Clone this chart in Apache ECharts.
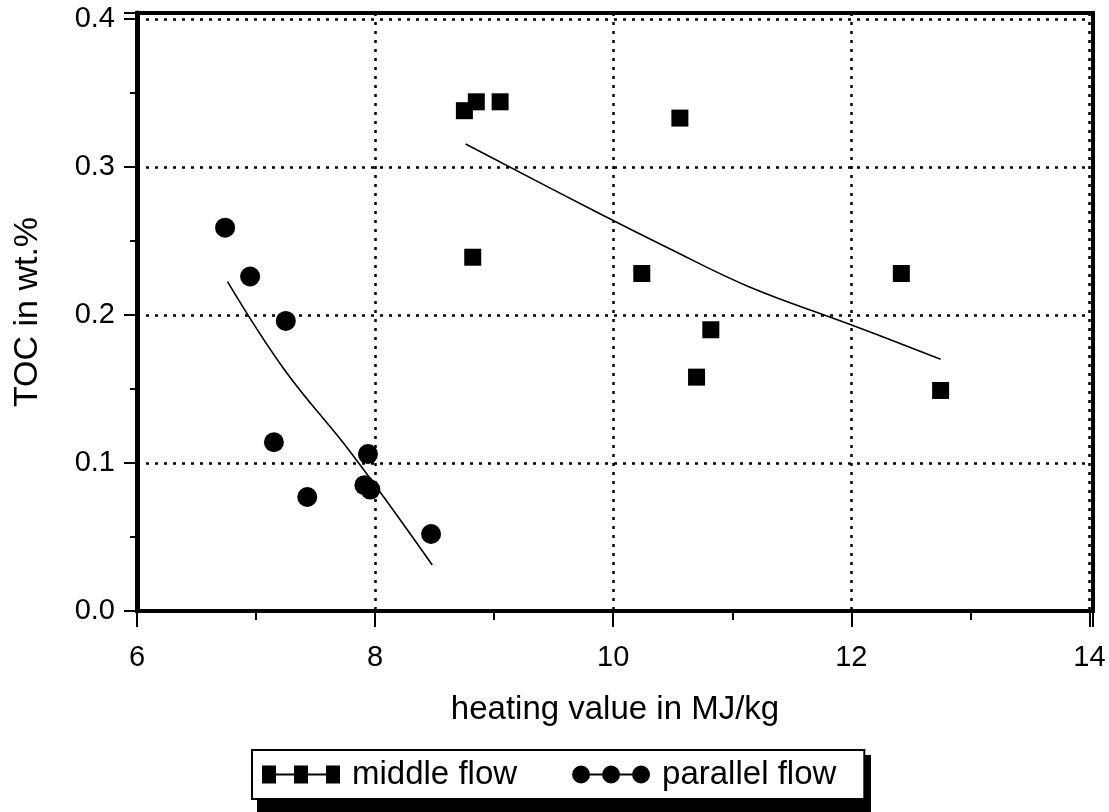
<!DOCTYPE html>
<html>
<head>
<meta charset="utf-8">
<script src="https://cdn.jsdelivr.net/npm/echarts@6/dist/echarts.min.js"></script>
<style>html,body{margin:0;padding:0;background:#fff}#c{width:1109px;height:812px}</style>
</head>
<body>
<div id="c"></div>
<script>
// ---- data ----
const middleFlowX = [8.75, 8.85, 9.05, 8.82, 10.56, 10.24, 12.42, 10.82, 10.70, 12.75];
const middleFlowY = [0.338, 0.344, 0.344, 0.239, 0.333, 0.228, 0.228, 0.190, 0.158, 0.149];
const parallelFlowX = [6.74, 6.95, 7.25, 7.15, 7.43, 7.94, 7.91, 7.96, 8.47];
const parallelFlowY = [0.259, 0.226, 0.196, 0.114, 0.077, 0.106, 0.085, 0.082, 0.052];
// fitted trend curves as drawn in the reference
const middleFitX = [8.76, 9.88, 10.44, 11.14, 11.98, 12.75];
const middleFitY = [0.3155, 0.2687, 0.2461, 0.2191, 0.1939, 0.1701];
const parallelFitX = [6.76, 7.24, 7.80, 8.48];
const parallelFitY = [0.2225, 0.1628, 0.1066, 0.0311];
const xTicks = [6, 8, 10, 12, 14];
const yTicks = ['0.0', '0.1', '0.2', '0.3', '0.4'];
const seriesNames = ['middle flow', 'parallel flow'];
const xTitle = 'heating value in MJ/kg';
const yTitle = 'TOC in wt.%';

const zip = (a, b) => a.map((v, i) => [v, b[i]]);
const FONT = '"Liberation Sans", Arial, sans-serif';

const squaresIcon = 'path://M0,0L14,0L14,18L0,18Z M14,8L32,8L32,10L14,10Z M32,0L46,0L46,18L32,18Z M46,8L64,8L64,10L46,10Z M64,0L78,0L78,18L64,18Z';
const circlesIcon = 'path://M0,9A9,9 0 1,1 18,9A9,9 0 1,1 0,9Z M18,8L30,8L30,10L18,10Z M30,9A9,9 0 1,1 48,9A9,9 0 1,1 30,9Z M48,8L60,8L60,10L48,10Z M60,9A9,9 0 1,1 78,9A9,9 0 1,1 60,9Z';

const chart = echarts.init(document.getElementById('c'), null, {renderer: 'canvas'});
chart.setOption({
  backgroundColor: '#fff',
  animation: false,
  textStyle: {fontFamily: FONT},
  graphic: [{
    type: 'rect', left: 257, top: 755, z: 1, silent: true,
    shape: {width: 614, height: 57},
    style: {fill: '#000'}
  }],
  grid: {
    left: 137, right: 16, top: 13, bottom: 201,
    show: true, borderColor: '#000', borderWidth: 4, backgroundColor: 'transparent'
  },
  legend: {
    left: 252, top: 750, z: 5,
    orient: 'horizontal',
    data: [
      {name: seriesNames[0], icon: squaresIcon},
      {name: seriesNames[1], icon: circlesIcon}
    ],
    itemWidth: 78, itemHeight: 18, itemGap: 55,
    padding: [8, 28, 8, 10],
    backgroundColor: '#fff',
    borderColor: '#000', borderWidth: 2,
    textStyle: {fontFamily: FONT, fontSize: 33, color: '#000', padding: [0, 0, 0, 7]},
    selectedMode: false
  },
  xAxis: {
    type: 'value', min: 6, max: 14.03, interval: 2,
    name: xTitle, nameLocation: 'middle', nameGap: 82,
    nameTextStyle: {fontFamily: FONT, fontSize: 33, color: '#000'},
    axisLine: {show: true, lineStyle: {color: '#000', width: 4}},
    axisTick: {show: true, length: 16, lineStyle: {color: '#000', width: 2}},
    minorTick: {show: true, splitNumber: 2, length: 9, lineStyle: {color: '#000', width: 2}},
    axisLabel: {
      fontFamily: FONT, fontSize: 29, color: '#000', margin: 32,
      formatter: v => (xTicks.indexOf(Math.round(v * 1000) / 1000) >= 0 ? String(v) : '')
    },
    splitLine: {show: true, lineStyle: {color: '#000', width: 2.5, type: [3, 6]}}
  },
  yAxis: {
    type: 'value', min: 0, max: 0.404, interval: 0.1,
    name: yTitle, nameLocation: 'middle', nameGap: 92,
    nameTextStyle: {fontFamily: FONT, fontSize: 34, color: '#000'},
    axisLine: {show: true, lineStyle: {color: '#000', width: 5}},
    axisTick: {show: true, length: 13, lineStyle: {color: '#000', width: 2}},
    minorTick: {show: true, splitNumber: 2, length: 7, lineStyle: {color: '#000', width: 2}},
    axisLabel: {
      fontFamily: FONT, fontSize: 29, color: '#000', margin: 22,
      formatter: v => {
        const s = v.toFixed(1);
        return (Math.abs(v * 10 - Math.round(v * 10)) < 1e-6 && yTicks.indexOf(s) >= 0) ? s : '';
      }
    },
    splitLine: {show: true, lineStyle: {color: '#000', width: 2.5, type: [3, 6]}}
  },
  series: [
    {
      name: seriesNames[0], type: 'scatter', data: zip(middleFlowX, middleFlowY),
      symbol: 'rect', symbolSize: 17, itemStyle: {color: '#000', opacity: 1}, z: 5
    },
    {
      name: seriesNames[1], type: 'scatter', data: zip(parallelFlowX, parallelFlowY),
      symbol: 'circle', symbolSize: 20, itemStyle: {color: '#000', opacity: 1}, z: 5
    },
    {
      name: 'middle fit', type: 'line', data: zip(middleFitX, middleFitY),
      showSymbol: false, smooth: 0.4, lineStyle: {color: '#000', width: 1.6}, z: 4
    },
    {
      name: 'parallel fit', type: 'line', data: zip(parallelFitX, parallelFitY),
      showSymbol: false, smooth: 0.4, lineStyle: {color: '#000', width: 1.6}, z: 4
    }
  ]
});
</script>
</body>
</html>
